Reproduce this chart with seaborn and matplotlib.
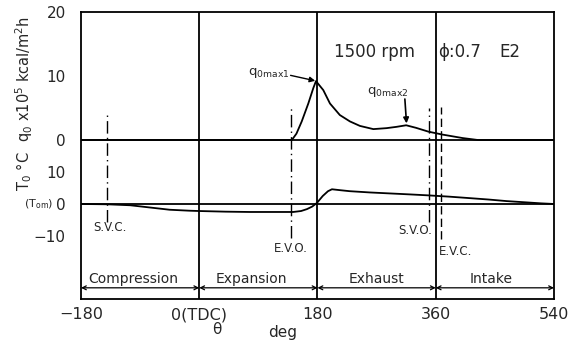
import matplotlib
matplotlib.use("Agg")
import matplotlib.pyplot as plt
import seaborn as sns
import pandas as pd

# Crank angle (deg) and heat flux q0 (x10^5 kcal/m^2h)
q_deg = [-180, 141, 148, 156, 166, 173.6, 177.7, 188.8, 199, 214, 229.4, 244.6,
         265, 285, 300, 315, 330, 349, 370, 401, 424, 540]
q_val = [0, 0, 1.0, 2.9, 5.7, 8.1, 9.2, 7.8, 5.7, 3.9, 2.9, 2.2,
         1.7, 1.85, 2.05, 2.3, 1.9, 1.3, 0.85, 0.3, 0.0, 0.0]

# Crank angle (deg) and surface temperature swing T0 (deg C, relative to T0m)
t_deg = [-180, -140, -105, -75, -45, -15, 0, 40, 77, 120, 143, 155, 164, 172, 179,
         188, 196, 202, 215, 229, 260, 290, 320, 348, 380, 407, 440, 468, 498, 520, 540]
t_val = [0, -0.1, -0.4, -1.1, -1.8, -2.1, -2.2, -2.4, -2.5, -2.5, -2.5, -2.2, -1.6, -0.8, 0.3,
         2.5, 4.0, 4.6, 4.3, 4.0, 3.6, 3.3, 3.0, 2.7, 2.3, 1.9, 1.4, 0.9, 0.5, 0.2, 0]

# Valve events (deg)
valve_names = ["S.V.C.", "E.V.O.", "S.V.O.", "E.V.C."]
valve_deg = [-140, 140, 349, 367.5]

# Stroke phases
phase_names = ["Compression", "Expansion", "Exhaust", "Intake"]
phase_start = [-180, 0, 180, 360]
phase_end = [0, 180, 360, 540]

x_ticks = [-180, 0, 180, 360, 540]
x_ticklabels = ["\u2212180", "0(TDC)", "180", "360", "540"]

# Lower (temperature) panel shares the axis: T is drawn at T_OFFSET + T * T_SCALE
T_OFFSET = -10.0
T_SCALE = 0.5
t_ticks = [10, 0, -10]

sns.set_style("white")
plt.rcParams["font.family"] = ["DejaVu Sans"]
plt.rcParams["mathtext.default"] = "regular"

fig = plt.figure(figsize=(5.79, 3.47), dpi=100)
ax = fig.add_axes([0.1399, 0.1383, 0.8169, 0.8271])

q_df = pd.DataFrame({"deg": q_deg, "q": q_val})
t_df = pd.DataFrame({"deg": t_deg, "T": t_val})
t_df["pos"] = T_OFFSET + t_df["T"] * T_SCALE

lw = 1.3
sns.lineplot(data=q_df, x="deg", y="q", ax=ax, color="black", lw=lw, sort=False)
sns.lineplot(data=t_df, x="deg", y="pos", ax=ax, color="black", lw=lw, sort=False)

ax.set_xlim(-180, 540)
ax.set_ylim(-24.85, 20)

# Zero lines for both panels and stroke boundaries
ax.axhline(0, color="black", lw=lw)
ax.axhline(T_OFFSET, color="black", lw=lw)
for xb in [0, 180, 360]:
    ax.axvline(xb, color="black", lw=lw)

# Valve timing marks
valve_spans = [(-12.8, 4.4), (-15.3, 5.2), (-12.8, 5.0), (-15.5, 5.2)]
valve_styles = [(0, (9, 3, 1, 3)), (0, (9, 3, 1, 3)), (0, (9, 3, 1, 3)), (0, (6, 3))]
for d, (lo, hi), ls in zip(valve_deg, valve_spans, valve_styles):
    ax.plot([d, d], [lo, hi], color="black", lw=1.0, ls=ls)

fs_small = 8.5
ax.text(-136, -13.6, valve_names[0], ha="center", va="center", fontsize=fs_small)
ax.text(valve_deg[1], -17.0, valve_names[1], ha="center", va="center", fontsize=fs_small)
ax.text(355, -14.2, valve_names[2], ha="right", va="center", fontsize=fs_small)
ax.text(365, -17.4, valve_names[3], ha="left", va="center", fontsize=fs_small)

# Stroke phase arrows and labels
arrow_y = -23.1
phase_x = [-100, 80, 270, 444]
for name, a, b, px in zip(phase_names, phase_start, phase_end, phase_x):
    ax.annotate("", xy=(a, arrow_y), xytext=(b, arrow_y),
                arrowprops=dict(arrowstyle="<->", lw=0.9, color="black",
                                shrinkA=0, shrinkB=0, mutation_scale=7))
    ax.text(px, -21.8, name, ha="center", va="center", fontsize=10)

# Peak annotations
ax.text(137, 10.4, "q$_{0max1}$", ha="right", va="center", fontsize=9.5)
ax.annotate("", xy=(176.5, 9.25), xytext=(139, 10.1),
            arrowprops=dict(arrowstyle="-|>", lw=1.0, color="black",
                            shrinkA=0, shrinkB=0, mutation_scale=8))
ax.text(287, 7.5, "q$_{0max2}$", ha="center", va="center", fontsize=9.5)
ax.annotate("", xy=(315.5, 2.6), xytext=(313, 6.4),
            arrowprops=dict(arrowstyle="-|>", lw=1.2, color="black",
                            shrinkA=0, shrinkB=0, mutation_scale=8))

# Operating condition
ax.text(267, 13.75, "1500 rpm", ha="center", va="center", fontsize=12)
ax.text(363, 13.75, "\u03d5:0.7", ha="left", va="center", fontsize=12)
ax.text(473, 13.75, "E2", ha="center", va="center", fontsize=12)

# Axis ticks
ax.set_xticks(x_ticks)
ax.set_xticklabels(x_ticklabels, fontsize=11.5)
ax.tick_params(axis="x", length=0, pad=6)
y_ticks = [20, 10, 0] + [T_OFFSET + t * T_SCALE for t in t_ticks]
y_labels = ["20", "10", "0", "10", "0", "\u221210"]
ax.set_yticks(y_ticks)
ax.set_yticklabels(y_labels, fontsize=11)
ax.tick_params(axis="y", direction="in", length=5, width=1.0, pad=11)
ax.text(-0.058, T_OFFSET, "(T$_{om}$)", transform=ax.get_yaxis_transform(),
        ha="right", va="center", fontsize=8)

ax.set_xlabel("")
ax.set_ylabel("")
for s in ax.spines.values():
    s.set_linewidth(lw)
    s.set_color("black")

# Axis titles
fig.text(24 / 579, 1 - 79 / 347, "q$_0$ x10$^5$ kcal/m$^2$h", rotation=90,
         ha="center", va="center", fontsize=10.5)
fig.text(24 / 579, 1 - 171 / 347, "T$_0$ \u00b0C", rotation=90,
         ha="center", va="center", fontsize=10.5)
fig.text(217 / 579, 1 - 329 / 347, "\u03b8", ha="center", va="center", fontsize=11)
fig.text(283 / 579, 1 - 332 / 347, "deg", ha="center", va="center", fontsize=11)

fig.savefig("out.png", dpi=100, facecolor="white")
